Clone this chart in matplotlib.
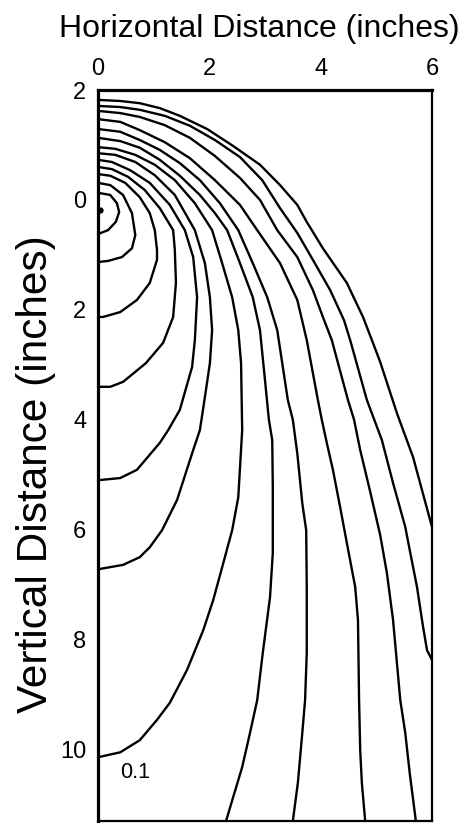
import matplotlib
matplotlib.use("Agg")
import matplotlib.pyplot as plt

plt.rcParams['font.family'] = ['Liberation Sans', 'DejaVu Sans']

# ---- data (inches) ----
xticks = [0, 2, 4, 6]
yticks = [-2, 0, 2, 4, 6, 8, 10]
ytick_labels = ["2", "0", "2", "4", "6", "8", "10"]

# contour lines, outermost first
A_x = [0, 0.40, 0.75, 1.11, 1.47, 1.96, 2.43, 2.91, 3.27, 3.58, 3.75, 4.04, 4.47, 4.76, 4.92, 5.07, 5.37, 5.66, 6.0]
A_y = [-1.82, -1.80, -1.76, -1.67, -1.53, -1.29, -0.98, -0.64, -0.27, 0.09, 0.40, 0.88, 1.51, 2.13, 2.55, 2.95, 3.88, 4.68, 5.95]

B_x = [0, 0.40, 0.75, 1.20, 1.65, 2.10, 2.55, 2.95, 3.27, 3.58, 3.86, 4.17, 4.42, 4.53, 4.83, 5.10, 5.30, 5.52, 5.60, 5.73, 5.84, 5.91, 6.0]
B_y = [-1.71, -1.69, -1.64, -1.53, -1.35, -1.09, -0.78, -0.36, 0.15, 0.60, 1.09, 1.64, 2.19, 2.55, 3.64, 4.37, 5.15, 5.95, 6.37, 7.04, 7.77, 8.19, 8.37]

C_x = [0, 0.40, 0.75, 1.20, 1.65, 2.10, 2.55, 2.91, 3.22, 3.58, 3.86, 4.04, 4.20, 4.49, 4.60, 4.71, 4.89, 5.07, 5.19, 5.30, 5.43, 5.52, 5.60, 5.71]
C_y = [-1.62, -1.58, -1.51, -1.36, -1.13, -0.80, -0.40, 0.00, 0.55, 1.04, 1.64, 2.13, 2.55, 3.64, 4.00, 4.55, 5.31, 6.10, 6.79, 7.64, 9.10, 9.70, 10.43, 11.30]

D_x = [0, 0.40, 0.75, 1.20, 1.65, 2.10, 2.55, 2.86, 3.27, 3.58, 3.75, 3.95, 4.02, 4.11, 4.22, 4.35, 4.47, 4.62, 4.67, 4.69, 4.71, 4.74, 4.80]
D_y = [-1.47, -1.42, -1.27, -1.05, -0.76, -0.36, 0.09, 0.55, 1.15, 1.82, 2.55, 3.64, 4.00, 4.42, 4.91, 5.59, 6.24, 7.04, 7.64, 9.10, 10.01, 10.61, 11.30]

E_x = [0, 0.40, 0.75, 1.11, 1.47, 1.83, 2.19, 2.52, 2.78, 3.04, 3.22, 3.41, 3.50, 3.58, 3.67, 3.74, 3.75, 3.75, 3.72, 3.67, 3.59, 3.50]
E_y = [-1.29, -1.24, -1.09, -0.91, -0.67, -0.36, 0.06, 0.55, 1.15, 1.77, 2.37, 3.64, 4.00, 4.61, 5.52, 6.01, 7.04, 8.24, 9.10, 9.70, 10.61, 11.30]

F_x = [0, 0.40, 0.75, 1.11, 1.47, 1.83, 2.10, 2.32, 2.55, 2.78, 2.91, 3.00, 3.07, 3.13, 3.14, 3.14, 3.09, 2.96, 2.86, 2.73, 2.59, 2.43, 2.30]
F_y = [-1.13, -1.07, -0.95, -0.73, -0.44, -0.09, 0.24, 0.55, 1.15, 1.77, 2.37, 3.28, 4.00, 4.37, 5.22, 6.42, 7.23, 8.24, 9.10, 9.70, 10.32, 10.86, 11.30]

L7_x = [0, 0.31, 0.67, 1.02, 1.38, 1.74, 2.05, 2.23, 2.41, 2.52, 2.57, 2.59, 2.52, 2.41, 2.25, 2.07, 1.89, 1.60, 1.29, 1.06, 0.75, 0.40, 0]
L7_y = [-0.96, -0.93, -0.82, -0.64, -0.36, 0.06, 0.55, 1.15, 1.77, 2.37, 2.97, 4.19, 5.41, 6.01, 6.61, 7.28, 7.83, 8.55, 9.15, 9.46, 9.83, 10.05, 10.14]

L6_x = [0, 0.31, 0.67, 1.02, 1.38, 1.74, 1.92, 2.01, 2.05, 2.01, 1.92, 1.83, 1.71, 1.42, 1.15, 0.93, 0.75, 0.45, 0]
L6_y = [-0.85, -0.82, -0.69, -0.45, -0.09, 0.55, 1.15, 1.77, 2.37, 2.97, 3.59, 4.19, 4.55, 5.46, 6.01, 6.32, 6.50, 6.64, 6.72]

L5_x = [0, 0.25, 0.58, 0.93, 1.29, 1.56, 1.71, 1.78, 1.74, 1.69, 1.47, 1.26, 1.11, 0.70, 0.40, 0]
L5_y = [-0.73, -0.69, -0.54, -0.31, 0.09, 0.55, 1.04, 1.77, 2.55, 3.04, 3.82, 4.19, 4.42, 4.91, 5.06, 5.10]

L4_x = [0, 0.25, 0.54, 0.84, 1.11, 1.35, 1.38, 1.40, 1.35, 1.17, 0.86, 0.45, 0.22, 0]
L4_y = [-0.60, -0.56, -0.42, -0.18, 0.15, 0.55, 0.91, 1.51, 2.13, 2.60, 2.97, 3.31, 3.40, 3.40]

L3_x = [0, 0.22, 0.49, 0.75, 0.93, 1.02, 1.06, 1.06, 0.93, 0.70, 0.40, 0.09, 0]
L3_y = [-0.47, -0.44, -0.31, -0.05, 0.24, 0.55, 0.91, 1.09, 1.51, 1.82, 2.04, 2.13, 2.13]

L2_x = [0, 0.22, 0.45, 0.61, 0.67, 0.61, 0.43, 0.18, 0]
L2_y = [-0.31, -0.27, -0.09, 0.24, 0.64, 0.88, 1.04, 1.11, 1.13]

L1_x = [0, 0.22, 0.34, 0.38, 0.32, 0.18, 0]
L1_y = [-0.13, -0.09, 0.06, 0.22, 0.40, 0.55, 0.62]

source_x = [0.04]
source_y = [0.18]

label_text = "0.1"
label_pos = (0.66, 10.42)

curves = [(A_x, A_y), (B_x, B_y), (C_x, C_y), (D_x, D_y), (E_x, E_y), (F_x, F_y),
          (L7_x, L7_y), (L6_x, L6_y), (L5_x, L5_y), (L4_x, L4_y), (L3_x, L3_y),
          (L2_x, L2_y), (L1_x, L1_y)]

# ---- figure ----
fig = plt.figure(figsize=(4.62, 8.23), dpi=100)
ax = fig.add_axes([98/462, 2/823, 334/462, 731/823])

for cx, cy in curves:
    ax.plot(cx, cy, color='black', lw=1.7, solid_joinstyle='round',
            solid_capstyle='round', clip_on=False)
ax.plot(source_x, source_y, 'o', color='black', ms=3.5)
ax.text(label_pos[0], label_pos[1], label_text, fontsize=15.5,
        ha='center', va='center')

ax.set_xlim(0, 6)
ax.set_ylim(11.3, -2)

ax.xaxis.tick_top()
ax.set_xticks(xticks)
ax.set_xticklabels([str(v) for v in xticks])
ax.set_yticks(yticks)
ax.set_yticklabels(ytick_labels)
ax.tick_params(axis='x', length=0, pad=7, labelsize=17)
ax.tick_params(axis='y', length=0, pad=8.5, labelsize=17)

ax.xaxis.set_label_position('top')
ax.set_xlabel("Horizontal Distance (inches)", fontsize=23)
ax.xaxis.set_label_coords(0.482, 1.072)
ax.set_ylabel("Vertical Distance (inches)", fontsize=30.5)
ax.yaxis.set_label_coords(-0.125, 0.475)

for side in ['top', 'left']:
    ax.spines[side].set_linewidth(2.3)
for side in ['right', 'bottom']:
    ax.spines[side].set_linewidth(1.6)

fig.savefig("out.png", dpi=100)
